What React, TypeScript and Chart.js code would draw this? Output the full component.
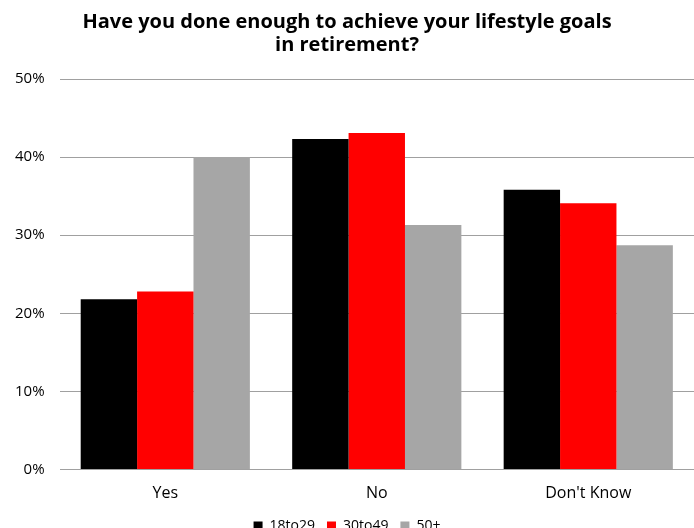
import React, { useEffect, useRef } from "react";
import { Chart, registerables } from "chart.js";

Chart.register(...registerables);

const categories = ["Yes", "No", "Don't Know"];
const seriesNames = ["18to29", "30to49", "50+"];
const values18to29 = [21.8, 42.3, 35.8];
const values30to49 = [22.8, 43.1, 34.1];
const values50plus = [40.0, 31.3, 28.7];
const seriesColors = ["#000000", "#ff0000", "#a6a6a6"];
const titleLines = ["Have you done enough to achieve your lifestyle goals", "in retirement?"];

const FONT = "'Open Sans'";

export default function App() {
  const ref = useRef<HTMLCanvasElement | null>(null);
  useEffect(() => {
    document.body.style.margin = "0";
    const ctx = ref.current!;
    const chart = new Chart(ctx, {
      type: "bar",
      data: {
        labels: categories,
        datasets: [values18to29, values30to49, values50plus].map((d, i) => ({
          label: seriesNames[i],
          data: d,
          backgroundColor: seriesColors[i],
          borderWidth: 0,
          categoryPercentage: 0.8,
          barPercentage: 1.0,
        })),
      },
      options: {
        animation: false,
        responsive: false,
        maintainAspectRatio: false,
        layout: { padding: { left: 0, right: 0, top: 4, bottom: -15 } },
        plugins: {
          title: {
            display: true,
            text: titleLines,
            color: "#000",
            font: { family: FONT, size: 20, weight: "bold", lineHeight: 1.15 },
            padding: { top: 7, bottom: 22 },
          },
          legend: {
            position: "bottom",
            title: { display: true, text: " ", padding: 0, font: { size: 3, lineHeight: 1.2 } },
            labels: {
              color: "#000",
              boxWidth: 9,
              boxHeight: 9,
              padding: 12,
              font: { family: FONT, size: 14 },
            },
          },
          tooltip: { enabled: false },
        },
        scales: {
          x: {
            grid: { display: false, drawTicks: false },
            border: { display: false },
            ticks: { color: "#000", font: { family: FONT, size: 16 }, padding: 14 },
            afterFit: (scale: any) => {
              scale.height = 34;
            },
          },
          y: {
            min: 0,
            max: 50,
            ticks: {
              stepSize: 10,
              color: "#000",
              padding: 15,
              font: { family: FONT, size: 15 },
              callback: (v: any) => v + "%",
            },
            grid: { color: "#a0a0a0", lineWidth: 1, drawTicks: false },
            border: { display: false },
          },
        },
      },
    });
    return () => chart.destroy();
  }, []);
  return (
    <div style={{ width: 694, height: 528 }}>
      <canvas ref={ref} width={694} height={528} style={{ display: "block" }} />
    </div>
  );
}
